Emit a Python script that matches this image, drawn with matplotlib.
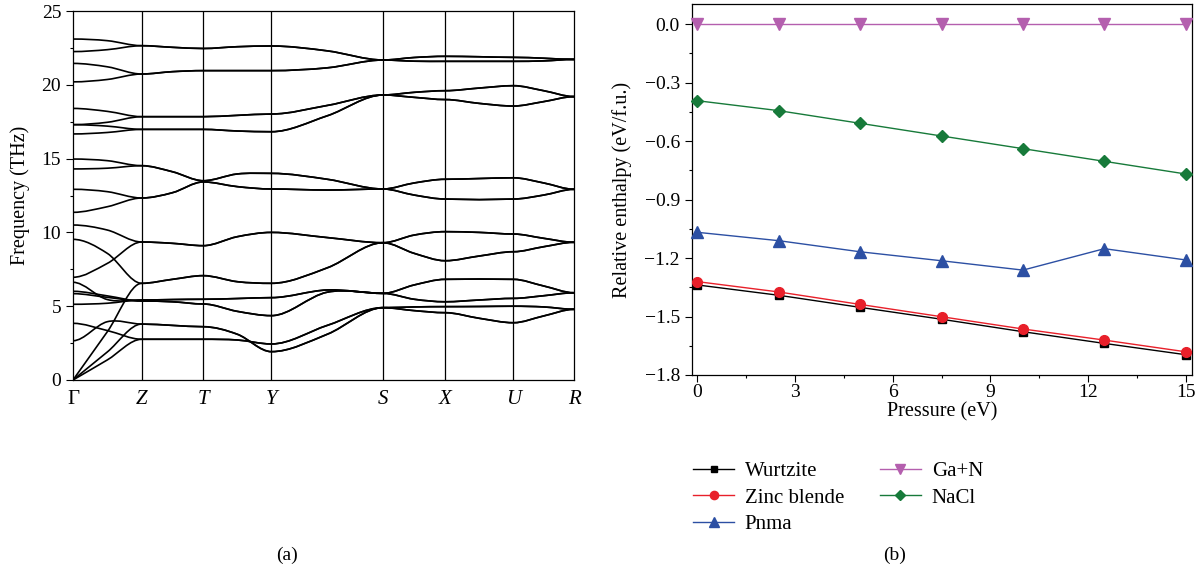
import matplotlib.pyplot as plt
from matplotlib.path import Path
from matplotlib.patches import PathPatch
from matplotlib.ticker import MultipleLocator

plt.rcParams['font.family'] = ['Liberation Serif', 'DejaVu Serif']

# ---- (a) phonon dispersion ----
kpt_labels = ['Γ', 'Z', 'T', 'Y', 'S', 'X', 'U', 'R']
kpt_pos = [0.0, 0.137, 0.260, 0.396, 0.619, 0.743, 0.879, 1.0]

# frequency (THz) at each k point and at the midpoint after it:
# [Γ, m, Z, m, T, m, Y, m, S, m, X, m, U, m, R]
low_bands = [
    [0.00, 1.36, 2.76, 2.76, 2.76, 2.71, 2.44, 3.70, 4.90, 4.70, 4.56, 4.18, 3.88, 4.34, 4.79],
    [3.84, 3.35, 2.76, 2.76, 2.76, 2.71, 2.44, 3.70, 4.90, 4.70, 4.56, 4.18, 3.88, 4.34, 4.79],
    [0.00, 1.90, 3.79, 3.70, 3.61, 3.10, 1.92, 3.10, 4.90, 4.95, 4.97, 4.98, 5.00, 4.95, 4.79],
    [2.66, 3.95, 3.79, 3.70, 3.61, 3.10, 1.92, 3.10, 4.90, 4.95, 4.97, 4.98, 5.00, 4.95, 4.79],
    [5.85, 5.60, 5.35, 5.30, 5.15, 4.65, 4.36, 5.95, 5.87, 5.47, 5.30, 5.42, 5.53, 5.71, 5.91],
    [6.01, 5.70, 5.35, 5.30, 5.15, 4.65, 4.36, 5.95, 5.87, 5.47, 5.30, 5.42, 5.53, 5.71, 5.91],
    [5.13, 5.20, 5.42, 5.45, 5.47, 5.52, 5.58, 6.10, 5.87, 6.44, 6.82, 6.84, 6.82, 6.37, 5.91],
    [6.62, 5.45, 5.42, 5.45, 5.47, 5.52, 5.58, 6.10, 5.87, 6.44, 6.82, 6.84, 6.82, 6.37, 5.91],
]
mid_bands = [
    [0.00, 3.27, 6.55, 6.82, 7.07, 6.66, 6.55, 7.60, 9.30, 8.58, 8.08, 8.40, 8.69, 9.03, 9.33],
    [9.53, 8.58, 6.55, 6.82, 7.07, 6.66, 6.55, 7.60, 9.30, 8.58, 8.08, 8.40, 8.69, 9.03, 9.33],
    [6.96, 7.90, 9.35, 9.26, 9.10, 9.71, 10.00, 9.65, 9.30, 9.82, 10.05, 10.00, 9.89, 9.60, 9.33],
    [10.50, 10.16, 9.35, 9.26, 9.10, 9.71, 10.00, 9.65, 9.30, 9.82, 10.05, 10.00, 9.89, 9.60, 9.33],
    [11.36, 11.74, 12.33, 12.69, 13.42, 13.10, 12.94, 12.87, 12.94, 12.53, 12.26, 12.22, 12.26, 12.53, 12.92],
    [12.92, 12.76, 12.33, 12.69, 13.42, 13.10, 12.94, 12.87, 12.94, 12.53, 12.26, 12.22, 12.26, 12.53, 12.92],
    [14.30, 14.35, 14.52, 14.11, 13.50, 13.96, 14.00, 13.60, 12.94, 13.35, 13.60, 13.65, 13.70, 13.35, 12.92],
    [14.97, 14.86, 14.52, 14.11, 13.50, 13.96, 14.00, 13.60, 12.94, 13.35, 13.60, 13.65, 13.70, 13.35, 12.92],
]
high_bands = [
    [16.67, 16.77, 16.98, 16.98, 16.98, 16.87, 16.82, 17.90, 19.31, 19.15, 19.00, 18.74, 18.56, 18.86, 19.20],
    [17.30, 17.20, 16.98, 16.98, 16.98, 16.87, 16.82, 17.90, 19.31, 19.15, 19.00, 18.74, 18.56, 18.86, 19.20],
    [17.30, 17.46, 17.84, 17.84, 17.84, 17.93, 18.02, 18.60, 19.31, 19.49, 19.60, 19.78, 19.94, 19.60, 19.20],
    [18.40, 18.20, 17.84, 17.84, 17.84, 17.93, 18.02, 18.60, 19.31, 19.49, 19.60, 19.78, 19.94, 19.60, 19.20],
    [20.20, 20.36, 20.73, 20.89, 20.96, 20.96, 20.96, 21.15, 21.68, 21.60, 21.59, 21.59, 21.59, 21.62, 21.72],
    [21.45, 21.22, 20.73, 20.89, 20.96, 20.96, 20.96, 21.15, 21.68, 21.60, 21.59, 21.59, 21.59, 21.62, 21.72],
    [22.25, 22.38, 22.65, 22.54, 22.46, 22.58, 22.63, 22.30, 21.68, 21.85, 21.93, 21.90, 21.86, 21.80, 21.72],
    [23.10, 22.99, 22.65, 22.54, 22.46, 22.58, 22.63, 22.30, 21.68, 21.85, 21.93, 21.90, 21.86, 21.80, 21.72],
]

# ---- (b) relative enthalpy ----
pressure = [0, 2.5, 5, 7.5, 10, 12.5, 15]
wurtzite = [-1.338, -1.391, -1.453, -1.514, -1.578, -1.638, -1.696]
zinc_blende = [-1.321, -1.374, -1.438, -1.501, -1.564, -1.621, -1.681]
pnma = [-1.068, -1.111, -1.168, -1.214, -1.262, -1.152, -1.210]
ga_n = [0.0, 0.0, 0.0, 0.0, 0.0, 0.0, 0.0]
nacl = [-0.393, -0.444, -0.509, -0.574, -0.639, -0.704, -0.769]


def band_path(xs, ys):
    # smooth curve through the sampled points, flat at zone-boundary points
    n = len(xs)
    slopes = []
    for i in range(n):
        if i % 2 == 0:
            if i == 0 and ys[0] == 0:
                slopes.append((ys[1] - ys[0]) / (xs[1] - xs[0]))
            else:
                slopes.append(0.0)
        else:
            slopes.append((ys[i + 1] - ys[i - 1]) / (xs[i + 1] - xs[i - 1]))
    verts = [(xs[0], ys[0])]
    codes = [Path.MOVETO]
    for i in range(n - 1):
        dx = xs[i + 1] - xs[i]
        verts += [(xs[i] + dx / 3, ys[i] + slopes[i] * dx / 3),
                  (xs[i + 1] - dx / 3, ys[i + 1] - slopes[i + 1] * dx / 3),
                  (xs[i + 1], ys[i + 1])]
        codes += [Path.CURVE4] * 3
    return Path(verts, codes)


fig = plt.figure(figsize=(12.04, 5.78), dpi=100)
fs = 14

# left panel
ax1 = fig.add_axes([73 / 1204, 1 - 380 / 578, 501 / 1204, 369 / 578])
k_samples = []
for i in range(len(kpt_pos) - 1):
    k_samples += [kpt_pos[i], (kpt_pos[i] + kpt_pos[i + 1]) / 2]
k_samples.append(kpt_pos[-1])

for band in low_bands + mid_bands + high_bands:
    ax1.add_patch(PathPatch(band_path(k_samples, band), fill=False,
                            edgecolor='black', lw=1.2, capstyle='round'))
for kp in kpt_pos[1:-1]:
    ax1.axvline(kp, color='black', lw=0.9)
ax1.set_xlim(0, 1)
ax1.set_ylim(0, 25)
ax1.set_xticks(kpt_pos)
ax1.set_xticklabels(kpt_labels, fontsize=15)
for lab in ax1.get_xticklabels()[1:]:
    lab.set_style('italic')
ax1.tick_params(axis='x', length=0, pad=7)
ax1.yaxis.set_major_locator(MultipleLocator(5))
ax1.yaxis.set_minor_locator(MultipleLocator(2.5))
ax1.tick_params(axis='y', which='major', direction='out', length=5, width=0.8,
                labelsize=fs)
ax1.tick_params(axis='y', which='minor', direction='out', length=2.5, width=0.8)
ax1.set_ylabel('Frequency (THz)', fontsize=fs + 0.5, labelpad=8)
for s in ax1.spines.values():
    s.set_linewidth(0.9)

# right panel
ax2 = fig.add_axes([691.7 / 1204, 1 - 375 / 578, 500 / 1204, 371 / 578])
series = [
    (wurtzite, 'Wurtzite', 'black', 's', 5.5),
    (zinc_blende, 'Zinc blende', '#e8202a', 'o', 7),
    (pnma, 'Pnma', '#2c4fa3', '^', 8),
    (ga_n, 'Ga+N', '#b45fae', 'v', 8),
    (nacl, 'NaCl', '#177a3a', 'D', 6.5),
]
handles = []
for vals, name, col, mk, ms in series:
    h, = ax2.plot(pressure, vals, color=col, marker=mk, ms=ms, lw=1.0,
                  label=name, clip_on=False, zorder=3)
    handles.append(h)
ax2.set_xlim(-0.17, 15.18)
ax2.set_ylim(-1.8, 0.103)
ax2.xaxis.set_major_locator(MultipleLocator(3))
ax2.xaxis.set_minor_locator(MultipleLocator(1.5))
ax2.yaxis.set_major_locator(MultipleLocator(0.3))
ax2.yaxis.set_minor_locator(MultipleLocator(0.15))
ax2.yaxis.set_major_formatter(lambda v, p: f'{v:.1f}'.replace('-', '\u2212'))
ax2.tick_params(which='major', direction='out', length=5, width=0.8, labelsize=fs)
ax2.tick_params(which='minor', direction='out', length=2.5, width=0.8)
ax2.tick_params(axis='x', pad=1.5)
ax2.set_xlabel('Pressure (eV)', fontsize=fs + 0.5, labelpad=1)
ax2.set_ylabel('Relative enthalpy (eV/f.u.)', fontsize=fs + 0.5, labelpad=9)
for s in ax2.spines.values():
    s.set_linewidth(0.9)

fig.legend(handles=handles, loc='upper left', ncol=2, frameon=False,
           bbox_to_anchor=(674 / 1204, 1 - 443 / 578), fontsize=15,
           handlelength=2.0, columnspacing=1.7, labelspacing=0.32,
           handletextpad=0.5, markerscale=0.85)

fig.text(287 / 1204, 1 - 555 / 578, '(a)', fontsize=fs, ha='center', va='center')
fig.text(895 / 1204, 1 - 555 / 578, '(b)', fontsize=fs, ha='center', va='center')

fig.savefig('out.png', dpi=100)
